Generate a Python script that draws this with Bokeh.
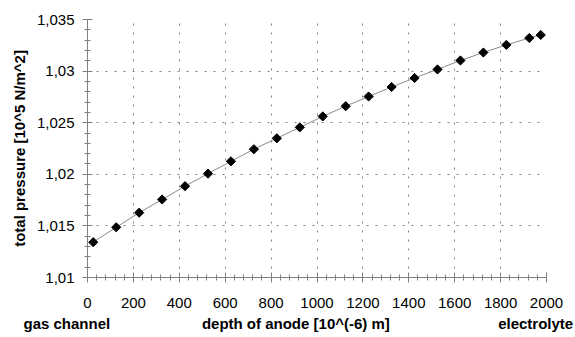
from bokeh.plotting import figure
from bokeh.models import Range1d, SingleIntervalTicker, CustomJSTickFormatter, Title
from bokeh.embed import file_html
from bokeh.resources import INLINE
import math

# data
depth = [25, 125, 225, 325, 425, 525, 625, 725, 825, 925, 1025, 1125, 1225,
         1325, 1425, 1525, 1625, 1725, 1825, 1925, 1975]
pressure = [1.01342, 1.01487, 1.01628, 1.01756, 1.01885, 1.02006, 1.02126,
            1.02243, 1.02349, 1.02455, 1.02561, 1.02660, 1.02754, 1.02846,
            1.02933, 1.03016, 1.03103, 1.03180, 1.03254, 1.03321, 1.03350]

x_label_left = "gas channel"
x_label_mid = "depth of anode [10^(-6) m]"
x_label_right = "electrolyte"
y_label = "total pressure [10^5 N/m^2]"

FONT = "Liberation Sans"
NB = "\u00a0"

p = figure(width=575, height=337, output_backend="svg", toolbar_location=None,
           x_range=Range1d(0, 2000), y_range=Range1d(1.01, 1.035))
p.min_border_left = 87
p.min_border_right = 29
p.min_border_top = 19
p.min_border_bottom = 60
p.outline_line_color = None
p.background_fill_color = "white"
p.border_fill_color = "white"

p.xaxis.ticker = SingleIntervalTicker(interval=200, num_minor_ticks=5)
p.yaxis.ticker = SingleIntervalTicker(interval=0.005, num_minor_ticks=5)
p.yaxis.formatter = CustomJSTickFormatter(
    code="return parseFloat(tick.toFixed(4)).toString().replace('.', ',');")

for ax in (p.xaxis[0], p.yaxis[0]):
    ax.axis_line_color = "#808080"
    ax.major_tick_line_color = "#808080"
    ax.minor_tick_line_color = "#808080"
    ax.major_tick_in = 5
    ax.major_tick_out = 5
    ax.minor_tick_in = 3
    ax.minor_tick_out = 3
    ax.major_label_text_font = FONT
    ax.major_label_text_font_size = "15px"
    ax.major_label_text_color = "black"

p.xaxis.major_label_standoff = 15
p.yaxis.major_label_standoff = 8

p.yaxis.axis_label = y_label
p.yaxis.axis_label_text_font = FONT
p.yaxis.axis_label_text_font_style = "bold"
p.yaxis.axis_label_text_font_size = "15px"
p.yaxis.axis_label_text_color = "black"
p.yaxis.axis_label_standoff = 6

# bottom title line: left, middle and right parts kept apart by
# non-breaking spaces, anchored left of the frame
bottom_text = x_label_left + NB * 22 + x_label_mid + NB * 26 + x_label_right
p.add_layout(Title(text=bottom_text, align="left", offset=-64, standoff=4,
                   text_font=FONT, text_font_style="bold",
                   text_font_size="15px", text_color="black"), "below")

for g in (p.xgrid[0], p.ygrid[0]):
    g.grid_line_color = "#808080"
    g.grid_line_dash = "2 7"
    g.grid_line_width = 1

p.line(depth, pressure, line_color="#8a8a8a", line_width=1)
p.scatter(depth, pressure, marker="square", angle=math.pi / 4, size=6.5,
          fill_color="black", line_color="black")

open("out.html", "w").write(file_html(p, INLINE))
